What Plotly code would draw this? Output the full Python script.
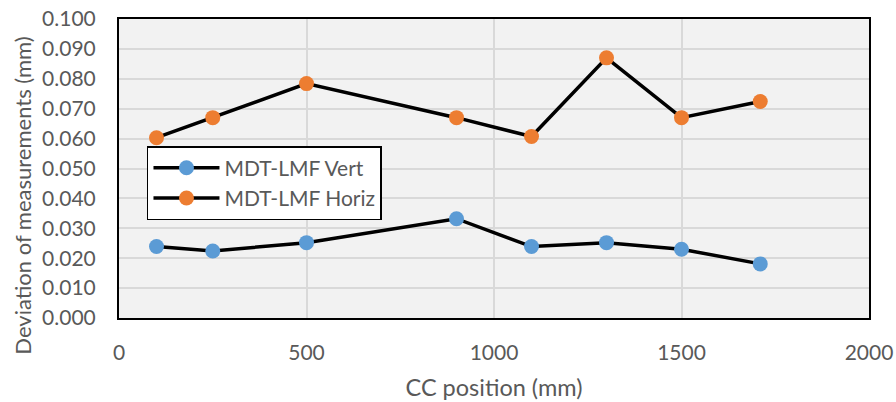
import plotly.graph_objects as go

x_pos = [100, 250, 500, 900, 1100, 1300, 1500, 1710]
vert = [0.0239, 0.0224, 0.0252, 0.0332, 0.0239, 0.0252, 0.0230, 0.0181]
horiz = [0.0603, 0.0670, 0.0784, 0.0670, 0.0607, 0.0870, 0.0670, 0.0724]
names = ["MDT-LMF Vert", "MDT-LMF Horiz"]
colors = ["#5B9BD5", "#ED7D31"]
x_ticks = [0, 500, 1000, 1500, 2000]
y_ticks = [i / 100 for i in range(11)]

fig = go.Figure()
for vals, name, col in zip([vert, horiz], names, colors):
    fig.add_trace(go.Scatter(
        x=x_pos, y=vals, name=name, mode="lines+markers",
        line=dict(color="black", width=3.5),
        marker=dict(color=col, size=15, line=dict(width=0)),
    ))

grey = "#595959"
fig.update_layout(
    width=896, height=402,
    margin=dict(l=119, r=27, t=19, b=84),
    paper_bgcolor="white", plot_bgcolor="#F2F2F2",
    font=dict(family="Lato", color=grey),
    showlegend=True,
    legend=dict(
        x=0.0373, y=0.575, xanchor="left", yanchor="top",
        bgcolor="white", bordercolor="black", borderwidth=1.5,
        font=dict(size=21, color=grey, family="Lato"),
        itemwidth=66, tracegroupgap=0,
    ),
    xaxis=dict(
        range=[0, 2000], tickvals=x_ticks, ticktext=[str(v) for v in x_ticks],
        showgrid=True, gridcolor="#D9D9D9", gridwidth=1.5,
        zeroline=False, showline=True, linecolor="black", linewidth=2, mirror=True,
        automargin=False, ticklabeloverflow="allow",
        tickfont=dict(size=21, color=grey),
        ticklabelstandoff=15,
        title=dict(text="CC position (mm)", standoff=16,
                   font=dict(size=23.5, color=grey)),
    ),
    yaxis=dict(
        range=[0, 0.1], tickvals=y_ticks, ticktext=[f"{v:.3f}" for v in y_ticks],
        showgrid=True, gridcolor="#D9D9D9", gridwidth=1.5,
        zeroline=False, showline=True, linecolor="black", linewidth=2, mirror=True,
        automargin=False, ticklabeloverflow="allow",
        tickfont=dict(size=21, color=grey),
        ticklabelstandoff=17,
    ),
    annotations=[dict(
        text="Deviation of measurements (mm)", textangle=-90,
        xref="paper", yref="paper", x=-0.129, y=0.41,
        xanchor="center", yanchor="middle", showarrow=False,
        font=dict(size=22, color=grey, family="Lato"),
    )],
)
fig.write_html("out.html", config={"displayModeBar": False},
               post_script="document.body.style.margin='0';")
